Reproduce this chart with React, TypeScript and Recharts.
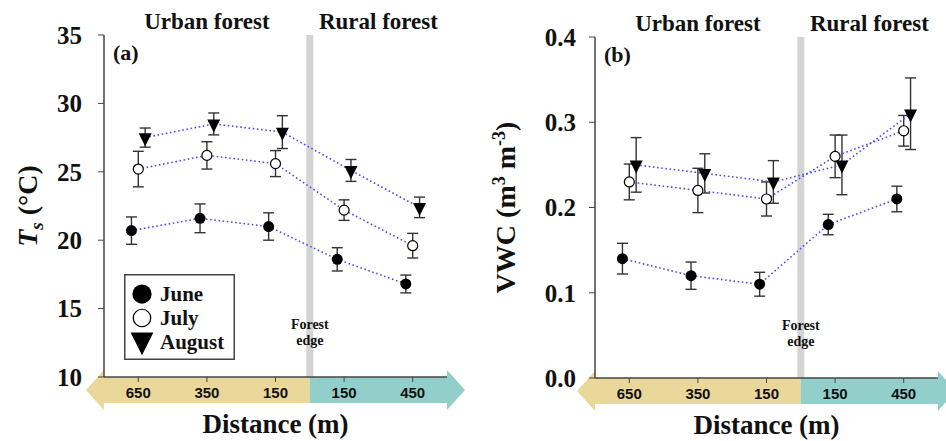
import {
  ComposedChart,
  Scatter,
  XAxis,
  YAxis,
  ErrorBar,
  ReferenceArea,
  ReferenceLine,
  Label,
  Legend,
} from 'recharts'

// distance from the forest edge (urban side, then rural side)
const DIST_LABELS = ['650', '350', '150', '150', '450']
const MONTHS = ['June', 'July', 'August']
// small horizontal jitter so the error bars don't overlap
const MONTH_SHIFT = [-0.1, 0, 0.1]

// (a) soil temperature Ts, °C
const TS_JUNE = [20.7, 21.6, 21.0, 18.6, 16.8]
const TS_JUNE_SE = [1.0, 1.05, 1.0, 0.85, 0.65]
const TS_JULY = [25.2, 26.2, 25.6, 22.2, 19.6]
const TS_JULY_SE = [1.3, 1.0, 0.95, 0.75, 0.9]
const TS_AUG = [27.5, 28.5, 27.9, 25.1, 22.4]
const TS_AUG_SE = [0.7, 0.8, 1.2, 0.8, 0.75]
const TS_TICKS = [10, 15, 20, 25, 30, 35]

// (b) volumetric water content, m3 m-3
const VWC_JUNE = [0.14, 0.12, 0.11, 0.18, 0.21]
const VWC_JUNE_SE = [0.018, 0.016, 0.014, 0.012, 0.015]
const VWC_JULY = [0.23, 0.22, 0.21, 0.26, 0.29]
const VWC_JULY_SE = [0.021, 0.026, 0.02, 0.025, 0.018]
const VWC_AUG = [0.25, 0.24, 0.23, 0.25, 0.31]
const VWC_AUG_SE = [0.032, 0.023, 0.025, 0.035, 0.042]
const VWC_TICKS = [0, 0.1, 0.2, 0.3, 0.4]

const SERIF = '"Liberation Serif", "Times New Roman", serif'
const SANS = '"Liberation Sans", Arial, sans-serif'
const INK = '#444'
const YELLOW = '#ead79a'
const TEAL = '#93cfca'
const LINE_BLUE = '#4d4df0'

const toRows = (vals: number[], errs: number[], shift: number) =>
  vals.map((y, i) => ({ x: i + shift, y, err: errs[i] }))

function Marker({ cx, cy, kind, big }: any) {
  if (cx == null || cy == null) return null
  const s = big ? 1.75 : 1
  if (kind === 0) return <circle cx={cx} cy={cy} r={5.5 * s} fill="#000" />
  if (kind === 1)
    return <circle cx={cx} cy={cy} r={5 * s} fill="#fff" stroke="#000" strokeWidth={1.2} />
  const hw = 6.5 * s
  const h = 13 * s
  return (
    <path
      d={`M${cx - hw},${cy - h / 3} L${cx + hw},${cy - h / 3} L${cx},${cy + (2 * h) / 3} Z`}
      fill="#000"
    />
  )
}

function Arrow({ x, y, width, height, dir, color }: any) {
  const top = y + height
  const bot = top + 26
  const mid = top + 13
  const head = 18
  const half = 20
  const x0 = x
  const x1 = x + width
  const d =
    dir === 'left'
      ? `M${x1},${top} L${x0},${top} L${x0},${mid - half} L${x0 - head},${mid} L${x0},${mid + half} L${x0},${bot} L${x1},${bot} Z`
      : `M${x0},${top} L${x1},${top} L${x1},${mid - half} L${x1 + head},${mid} L${x1},${mid + half} L${x1},${bot} L${x0},${bot} Z`
  return <path d={d} fill={color} />
}

function MonthLegend() {
  return (
    <svg width={111} height={86} style={{ display: 'block' }}>
      <rect x={0.75} y={0.75} width={109.5} height={84.5} fill="#fff" stroke={INK} strokeWidth={1.5} />
      {MONTHS.map((m, i) => (
        <g key={m}>
          <Marker kind={i} cx={18} cy={i === 2 ? 66 : 20 + i * 24} big />
          <text x={36} y={27 + i * 24} fontFamily={SERIF} fontWeight="bold" fontSize={21} fill="#111">
            {m}
          </text>
        </g>
      ))}
    </svg>
  )
}

function ForestEdge({ viewBox }: any) {
  if (!viewBox) return null
  const bottom = viewBox.y + viewBox.height
  const common = { textAnchor: 'middle' as const, fontFamily: SERIF, fontWeight: 'bold', fontSize: 14, fill: '#111' }
  return (
    <g>
      <text x={viewBox.x} y={bottom - 48} {...common}>Forest</text>
      <text x={viewBox.x} y={bottom - 32} {...common}>edge</text>
    </g>
  )
}

function Panel({
  tag, series, errors, domain, ticks, fmt, yWidth, marginTop, marginRight, xHeight, yLabel, yLabelX, tickMargin, legend,
}: any) {
  return (
    <ComposedChart width={470} height={441} margin={{ top: marginTop, right: marginRight, bottom: 0, left: 0 }}>
      <ReferenceArea x1={-0.5} x2={2.5} y1={domain[0]} y2={domain[1]} ifOverflow="visible"
        shape={(p: any) => <Arrow {...p} dir="left" color={YELLOW} />}>
        <Label value="Urban forest" position="top" offset={6} fontSize={23} fontWeight="bold" fontFamily={SERIF} fill="#111" />
        <Label value={tag} position="insideTopLeft" offset={9} fontSize={22} fontWeight="bold" fontFamily={SERIF} fill="#111" />
      </ReferenceArea>
      <ReferenceArea x1={2.5} x2={4.5} y1={domain[0]} y2={domain[1]} ifOverflow="visible"
        shape={(p: any) => <Arrow {...p} dir="right" color={TEAL} />}>
        <Label value="Rural forest" position="top" offset={6} fontSize={23} fontWeight="bold" fontFamily={SERIF} fill="#111" />
      </ReferenceArea>
      <ReferenceLine x={2.5} stroke="#d4d4d4" strokeWidth={7} label={<ForestEdge />} />

      <XAxis dataKey="x" type="number" domain={[-0.5, 4.5]} ticks={[0, 1, 2, 3, 4]} allowDataOverflow
        tickFormatter={(v: number) => DIST_LABELS[Math.round(v)]} height={xHeight}
        axisLine={{ stroke: INK, strokeWidth: 1.5 }} tickLine={{ stroke: INK }} tickSize={5} tickMargin={5}
        tick={{ fontSize: 15, fontWeight: 'bold', fontFamily: SANS, fill: '#111' }}>
        <Label content={({ viewBox }: any) => (
          <text x={viewBox.x + viewBox.width / 2} y={viewBox.y + 56} textAnchor="middle"
            fontFamily={SERIF} fontWeight="bold" fontSize={27} fill="#111">Distance (m)</text>
        )} />
      </XAxis>
      <XAxis xAxisId="top" orientation="top" type="number" domain={[-0.5, 4.5]} allowDataOverflow
        height={0} tick={false} tickLine={false} axisLine={{ stroke: INK, strokeWidth: 1.5 }} />
      <YAxis dataKey="y" type="number" domain={domain} ticks={ticks} allowDataOverflow width={yWidth}
        tickFormatter={fmt} axisLine={{ stroke: INK, strokeWidth: 1.5 }} tickLine={{ stroke: INK }}
        tickSize={6} tickMargin={tickMargin}
        tick={{ fontSize: 25, fontWeight: 'bold', fontFamily: SERIF, fill: '#111' }}>
        <Label content={({ viewBox }: any) => {
          const cx = viewBox.x + yLabelX
          const cy = viewBox.y + viewBox.height / 2
          return (
            <text x={cx} y={cy} dy="0.35em" textAnchor="middle" transform={`rotate(-90, ${cx}, ${cy})`}
              fontFamily={SERIF} fontWeight="bold" fontSize={28} fill="#111">
              {yLabel}
            </text>
          )
        }} />
      </YAxis>
      <YAxis yAxisId="r" orientation="right" type="number" domain={[0, 1]} width={0}
        tick={false} tickLine={false} axisLine={{ stroke: INK, strokeWidth: 1.5 }} />

      {series.map((vals: number[], i: number) => (
        <Scatter key={MONTHS[i]} name={MONTHS[i]} data={toRows(vals, errors[i], MONTH_SHIFT[i])}
          fill="#000" isAnimationActive={false} lineType="joint"
          line={{ stroke: LINE_BLUE, strokeWidth: 1.6, strokeDasharray: '1.6 2.6' }}
          shape={(p: any) => <Marker {...p} kind={i} />}>
          <ErrorBar dataKey="err" direction="y" width={5.5} stroke="#333" strokeWidth={1.4} />
        </Scatter>
      ))}

      {legend && (
        <Legend layout="vertical" align="center" verticalAlign="middle" content={() => <MonthLegend />}
          wrapperStyle={{ left: 124, top: 274, width: 111, height: 86 }} />
      )}
    </ComposedChart>
  )
}

export default function App() {
  return (
    <div style={{ position: 'absolute', left: 0, top: 0, width: 946, height: 441, background: '#fff', overflow: 'hidden' }}>
      <div style={{ position: 'absolute', left: 0, top: 0 }}>
        <Panel
          tag="(a)"
          series={[TS_JUNE, TS_JULY, TS_AUG]}
          errors={[TS_JUNE_SE, TS_JULY_SE, TS_AUG_SE]}
          domain={[10, 35]}
          ticks={TS_TICKS}
          fmt={(v: number) => String(v)}
          yWidth={104}
          marginTop={35}
          marginRight={23}
          xHeight={64}
          tickMargin={16}
          yLabelX={27}
          yLabel={
            <>
              <tspan fontStyle="italic">T</tspan>
              <tspan fontStyle="italic" fontSize={19} dy={6}>s</tspan>
              <tspan dy={-6}> (°C)</tspan>
            </>
          }
          legend
        />
      </div>
      <div style={{ position: 'absolute', left: 476, top: 0 }}>
        <Panel
          tag="(b)"
          series={[VWC_JUNE, VWC_JULY, VWC_AUG]}
          errors={[VWC_JUNE_SE, VWC_JULY_SE, VWC_AUG_SE]}
          domain={[0, 0.4]}
          ticks={VWC_TICKS}
          fmt={(v: number) => v.toFixed(1)}
          yWidth={119}
          marginTop={37}
          marginRight={8}
          xHeight={63}
          tickMargin={13}
          yLabelX={29}
          yLabel={
            <>
              VWC (m
              <tspan fontSize={18} dy={-10}>3</tspan>
              <tspan dy={10}> m</tspan>
              <tspan fontSize={18} dy={-10}>-3</tspan>
              <tspan dy={10}>)</tspan>
            </>
          }
        />
      </div>
    </div>
  )
}
